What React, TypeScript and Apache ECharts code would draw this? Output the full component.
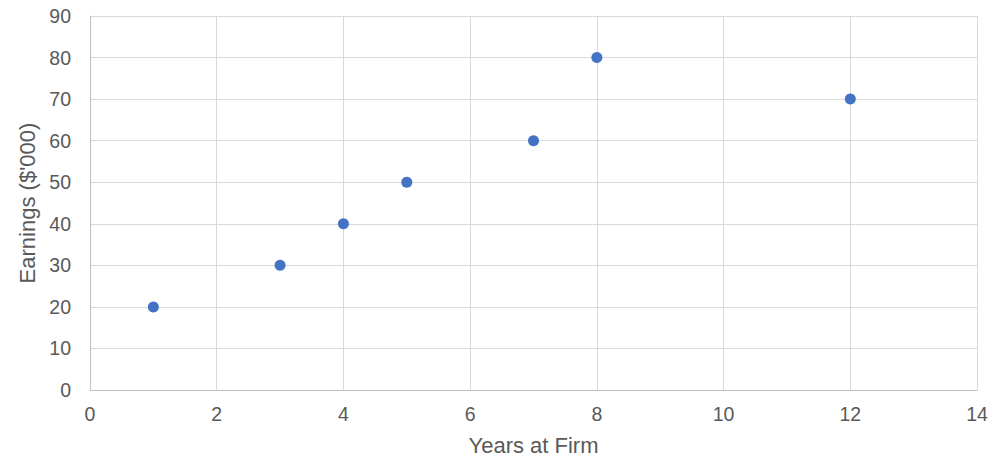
import React, { useEffect, useRef } from "react";
import * as echarts from "echarts";

const years = [1, 3, 4, 5, 7, 8, 12];
const earnings = [20, 30, 40, 50, 60, 80, 70];
const xTitle = "Years at Firm";
const yTitle = "Earnings ($'000)";

export default function App() {
  const ref = useRef<HTMLDivElement>(null);
  useEffect(() => {
    document.body.style.margin = "0";
    const chart = echarts.init(ref.current!, null, { renderer: "svg" });
    const font = "'Liberation Sans', Arial, sans-serif";
    chart.setOption({
      animation: false,
      backgroundColor: "#ffffff",
      grid: { left: 90, right: 23, top: 16, bottom: 75, containLabel: false },
      xAxis: {
        type: "value",
        min: 0,
        max: 14,
        interval: 2,
        name: xTitle,
        nameLocation: "middle",
        nameGap: 44,
        nameTextStyle: { color: "#595959", fontSize: 22, fontFamily: font },
        axisLine: { show: true, lineStyle: { color: "#bfbfbf", width: 1 } },
        axisTick: { show: false },
        axisLabel: { color: "#595959", fontSize: 19.5, fontFamily: font, margin: 14 },
        splitLine: { show: true, lineStyle: { color: "#d9d9d9", width: 1 } },
      },
      yAxis: {
        type: "value",
        min: 0,
        max: 90,
        interval: 10,
        name: yTitle,
        nameLocation: "middle",
        nameGap: 47,
        nameRotate: 90,
        nameTextStyle: { color: "#595959", fontSize: 22, fontFamily: font },
        axisLine: { show: true, lineStyle: { color: "#bfbfbf", width: 1 } },
        axisTick: { show: false },
        axisLabel: { color: "#595959", fontSize: 19.5, fontFamily: font, margin: 19 },
        splitLine: { show: true, lineStyle: { color: "#d9d9d9", width: 1 } },
      },
      series: [
        {
          type: "scatter",
          data: years.map((x, i) => [x, earnings[i]]),
          symbol: "circle",
          symbolSize: 11,
          itemStyle: { color: "#4472C4", opacity: 1 },
        },
      ],
    });
    return () => chart.dispose();
  }, []);
  return <div ref={ref} style={{ width: 1000, height: 465 }} />;
}
